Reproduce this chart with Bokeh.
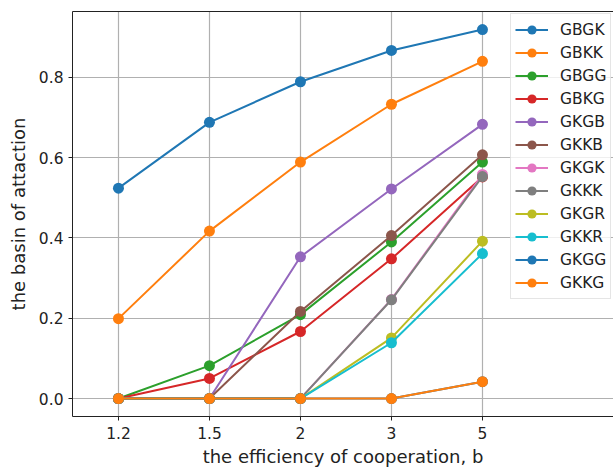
from bokeh.plotting import figure
from bokeh.models import (FixedTicker, PrintfTickFormatter, Range1d, Legend,
                          LegendItem, LinearAxis)
from bokeh.embed import file_html
from bokeh.resources import INLINE

# ---- data ----
b_labels = ["1.2", "1.5", "2", "3", "5"]
series_names = ["GBGK", "GBKK", "GBGG", "GBKG", "GKGB", "GKKB",
                "GKGK", "GKKK", "GKGR", "GKKR", "GKGG", "GKKG"]
GBGK = [0.524, 0.688, 0.789, 0.867, 0.919]
GBKK = [0.199, 0.417, 0.589, 0.733, 0.840]
GBGG = [0.0, 0.082, 0.209, 0.390, 0.589]
GBKG = [0.0, 0.050, 0.167, 0.348, 0.552]
GKGB = [0.0, 0.0, 0.353, 0.522, 0.683]
GKKB = [0.0, 0.0, 0.217, 0.406, 0.607]
GKGK = [0.0, 0.0, 0.0, 0.247, 0.558]
GKKK = [0.0, 0.0, 0.0, 0.246, 0.553]
GKGR = [0.0, 0.0, 0.0, 0.151, 0.392]
GKKR = [0.0, 0.0, 0.0, 0.139, 0.361]
GKGG = [0.0, 0.0, 0.0, 0.0, 0.042]
GKKG = [0.0, 0.0, 0.0, 0.0, 0.042]
series_values = [GBGK, GBKK, GBGG, GBKG, GKGB, GKKB,
                 GKGK, GKKK, GKGR, GKKR, GKGG, GKKG]
y_ticks = [0.0, 0.2, 0.4, 0.6, 0.8]
x_title = "the efficiency of cooperation, b"
y_title = "the basin of attaction"

colors = ["#1f77b4", "#ff7f0e", "#2ca02c", "#d62728", "#9467bd", "#8c564b",
          "#e377c2", "#7f7f7f", "#bcbd22", "#17becf", "#1f77b4", "#ff7f0e"]

FONT = "DejaVu Sans"
INK = "#222222"
xs = list(range(len(b_labels)))

p = figure(width=613, height=469, output_backend="svg", toolbar_location=None,
           x_range=Range1d(-0.505, 5.44), y_range=Range1d(-0.0447, 0.964),
           min_border_left=72, min_border_right=0, min_border_top=11,
           min_border_bottom=52)
p.outline_line_color = None
p.background_fill_color = "white"
p.border_fill_color = "white"

items = []
for name, vals, c in zip(series_names, series_values, colors):
    r1 = p.line(xs, vals, line_color=c, line_width=2)
    r2 = p.scatter(xs, vals, size=11, fill_color=c, line_color=c, line_width=0)
    items.append(LegendItem(label=name, renderers=[r1, r2]))

bottom_axis = p.below[0]
left_axis = p.left[0]

# top spine (no ticks, no labels)
top_axis = LinearAxis(ticker=FixedTicker(ticks=[]))
top_axis.major_label_text_font_size = "0px"
top_axis.major_tick_out = 0
top_axis.major_tick_in = 0
top_axis.minor_tick_line_color = None
top_axis.major_label_standoff = 0
top_axis.axis_line_color = INK
top_axis.axis_line_width = 1
p.add_layout(top_axis, "above")

for ax in (bottom_axis, left_axis):
    ax.axis_line_color = INK
    ax.axis_line_width = 1
    ax.major_tick_in = 0
    ax.major_tick_out = 4
    ax.major_tick_line_color = INK
    ax.minor_tick_line_color = None
    ax.major_label_text_font = FONT
    ax.major_label_text_font_size = "15.5px"
    ax.major_label_text_color = INK
    ax.axis_label_text_font = FONT
    ax.axis_label_text_font_size = "18px"
    ax.axis_label_text_font_style = "normal"
    ax.axis_label_text_color = INK

bottom_axis.ticker = FixedTicker(ticks=xs)
bottom_axis.major_label_overrides = {i: lab for i, lab in zip(xs, b_labels)}
bottom_axis.major_label_standoff = 6
bottom_axis.axis_label = x_title
bottom_axis.axis_label_standoff = 4

left_axis.ticker = FixedTicker(ticks=y_ticks)
left_axis.formatter = PrintfTickFormatter(format="%.1f")
left_axis.major_label_standoff = 5
left_axis.axis_label = y_title
left_axis.axis_label_standoff = 7

p.xgrid.grid_line_color = "#b0b0b0"
p.ygrid.grid_line_color = "#b0b0b0"
p.xgrid.grid_line_width = 1.2
p.ygrid.grid_line_width = 1.2

legend = Legend(items=items, location=(438, 117))
legend.label_text_font = FONT
legend.label_text_font_size = "15.5px"
legend.label_text_color = INK
legend.glyph_width = 33
legend.glyph_height = 23
legend.label_height = 23
legend.label_standoff = 12
legend.spacing = 0
legend.padding = 4
legend.margin = 0
legend.border_line_color = "#cccccc"
legend.border_line_width = 1
legend.background_fill_alpha = 0.8
p.add_layout(legend)

open("out.html", "w").write(file_html(p, INLINE))
